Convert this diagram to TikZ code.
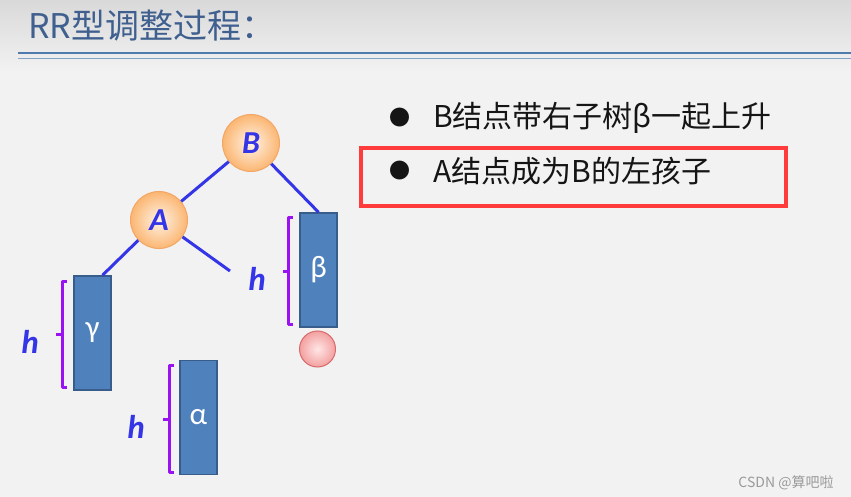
\documentclass[tikz,border=0pt]{standalone}
\usepackage{fontspec}
\setmainfont{Carlito}
\newfontfamily\cjkfont{Noto Sans CJK SC}
\usetikzlibrary{positioning}
\definecolor{slideBg}{HTML}{F2F2F2}
\definecolor{slideTop}{HTML}{D9D9D9}
\definecolor{titleBlue}{HTML}{3F5F8F}
\definecolor{ruleBlue}{HTML}{4F7AAE}
\definecolor{edgeBlue}{HTML}{3535E8}
\definecolor{boxFill}{HTML}{4F81BD}
\definecolor{boxLine}{HTML}{385D8A}
\definecolor{braceViolet}{HTML}{9A12F2}
\definecolor{nodeRim}{HTML}{F2A766}
\definecolor{nodeIn}{HTML}{FFF3E6}
\definecolor{nodeOut}{HTML}{FBB672}
\definecolor{insRim}{HTML}{D86A6A}
\definecolor{insIn}{HTML}{FFE6E6}
\definecolor{insOut}{HTML}{F3A0A0}
\definecolor{markRed}{HTML}{FF3B3B}
\definecolor{textDark}{HTML}{151515}
\definecolor{wmGray}{HTML}{9A9A9A}

\begin{document}
\begin{tikzpicture}[
  x=1pt, y=-1pt,
  treenode/.style={circle, minimum size=57pt, inner sep=0pt, draw=nodeRim, line width=1pt,
                   inner color=nodeIn, outer color=nodeOut, text=edgeBlue,
                   font=\fontsize{32}{32}\selectfont\bfseries\itshape},
  subtree/.style={rectangle, minimum width=37pt, minimum height=114pt, inner sep=0pt,
                  fill=boxFill, draw=boxLine, line width=1.5pt, text=white,
                  font=\fontsize{31}{31}\selectfont},
  hlabel/.style={text=edgeBlue, inner sep=0pt, font=\fontsize{33}{33}\selectfont\bfseries\itshape},
  brace/.style={draw=braceViolet, line width=3pt, line join=round},
  e/.style={draw=edgeBlue, line width=3pt},
  bullet/.style={text=textDark, inner sep=0pt, font=\cjkfont\fontsize{21}{21}\selectfont},
  point/.style={anchor=west, text=textDark, inner sep=0pt, font=\cjkfont\fontsize{30}{30}\selectfont}
]
\useasboundingbox (0,0) rectangle (851,497);
% slide background
\fill[slideBg] (0,0) rectangle (851,497);
\shade[top color=slideTop, bottom color=slideBg] (0,0) rectangle (851,72);
\node[anchor=west, text=titleBlue, inner sep=0pt, font=\cjkfont\fontsize{34}{34}\selectfont]
  (title) at (28,26) {RR型调整过程：};
\draw[ruleBlue, line width=2.2pt] (18,53) -- (851,53);
\draw[ruleBlue!70, line width=1pt] (18,58.5) -- (851,58.5);

% tree
\node[treenode] (B) at (251,143) {B};
\node[treenode] (A) at (159,220) {A};
\node[subtree] (beta) at (318.5,270) {β};
\node[subtree] (gamma) at (92.5,333) {γ};
\node[subtree] (alpha) at (198.5,417.5) {α};
\node[circle, minimum size=36pt, inner sep=0pt, draw=insRim, line width=1pt,
      inner color=insIn, outer color=insOut] (new) at (317.5,349) {};
\node[hlabel] (hbeta) at (257,279) {h};
\node[hlabel] (hgamma) at (30,342) {h};
\node[hlabel] (halpha) at (136,427) {h};
\coordinate (aright) at (230,271);

\draw[e] (B) -- (A);
\draw[e] (B) -- (beta.north);
\draw[e] (A) -- ([xshift=10pt]gamma.north);
\draw[e] (A) -- (aright);

% height braces
\draw[brace] (293,218) -- (288,218) -- (288,324) -- (293,324);
\draw[brace] (288,271) -- (283,271);
\draw[brace] (67,281) -- (62,281) -- (62,387) -- (67,387);
\draw[brace] (62,334) -- (56,334);
\draw[brace] (174,365) -- (169,365) -- (169,472) -- (174,472);
\draw[brace] (169,419) -- (163,419);

% notes
\node[bullet] (dot1) at (400,118) {●};
\node[point] (note1) at (433,118) {B结点带右子树β一起上升};
\node[bullet] (dot2) at (400,171) {●};
\node[point] (note2) at (433,171) {A结点成为B的左孩子};
\draw[markRed, line width=4pt] (361,148) rectangle (786,206);

\node[text=wmGray, inner sep=0pt, font=\cjkfont\fontsize{14}{14}\selectfont]
  (mark) at (786,483) {CSDN @算吧啦};
\end{tikzpicture}
\end{document}
